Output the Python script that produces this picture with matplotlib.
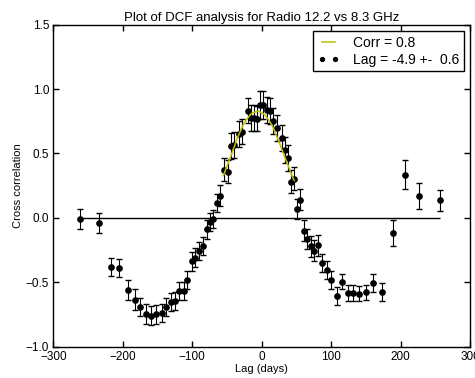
import numpy as np
import matplotlib
matplotlib.use("Agg")
import matplotlib.pyplot as plt
from matplotlib.lines import Line2D

plt.rcParams['font.family'] = ['Liberation Sans', 'DejaVu Sans']

# DCF points: lag (days), correlation, error
lag = [-261, -234, -217, -205, -193, -183, -175, -167, -159, -152,
       -144, -138, -131, -125, -119, -112, -107, -101, -95.5, -90,
       -84.5, -79, -75, -70, -65, -60, -54, -49, -43.5, -40.5,
       -32, -29, -20, -16, -11, -7, -2.4, 2.3, 7.2, 12,
       16.7, 22.4, 28.8, 33.5, 38.3, 42, 47, 50.4, 55.8, 60.5,
       65, 71, 75.7, 81.4, 87.2, 93.5, 99.7, 108, 116, 123.7,
       131.8, 140, 150, 161, 173.5, 189, 206, 226, 256.5]
dcf = [-0.01, -0.04, -0.38, -0.39, -0.56, -0.635, -0.69, -0.745, -0.76, -0.75,
       -0.74, -0.69, -0.65, -0.647, -0.57, -0.565, -0.48, -0.337, -0.31, -0.26,
       -0.22, -0.09, -0.034, -0.008, 0.116, 0.173, 0.375, 0.36, 0.556, 0.565,
       0.652, 0.67, 0.833, 0.776, 0.776, 0.771, 0.874, 0.874, 0.84, 0.828,
       0.75, 0.70, 0.62, 0.53, 0.466, 0.28, 0.305, 0.07, 0.142, -0.10,
       -0.163, -0.22, -0.254, -0.213, -0.35, -0.407, -0.484, -0.603, -0.495, -0.583,
       -0.583, -0.588, -0.578, -0.505, -0.578, -0.12, 0.336, 0.17, 0.137]
err = [0.08, 0.08, 0.07, 0.07, 0.08, 0.08, 0.07, 0.075, 0.075, 0.075,
       0.07, 0.07, 0.07, 0.07, 0.07, 0.07, 0.07, 0.075, 0.075, 0.07,
       0.07, 0.07, 0.07, 0.07, 0.07, 0.08, 0.09, 0.09, 0.1, 0.1,
       0.1, 0.1, 0.1, 0.1, 0.1, 0.1, 0.11, 0.11, 0.1, 0.1,
       0.1, 0.1, 0.1, 0.1, 0.1, 0.09, 0.09, 0.08, 0.08, 0.08,
       0.08, 0.08, 0.08, 0.08, 0.07, 0.07, 0.07, 0.07, 0.06, 0.06,
       0.06, 0.06, 0.06, 0.07, 0.07, 0.1, 0.11, 0.1, 0.08]

# fitted curve
fit_lag = [-55, -45, -35, -25, -15, -5, 5, 15, 25, 35, 45, 47]
fit_val = [0.33, 0.47, 0.62, 0.74, 0.81, 0.83, 0.80, 0.72, 0.59, 0.45, 0.31, 0.29]

fig = plt.figure(figsize=(4.75, 3.78), dpi=100)
ax = fig.add_axes([0.1122, 0.0828, 0.8773, 0.8519])

ax.hlines(0, lag[0], lag[-1], colors='k', linewidth=1)
ax.errorbar(lag, dcf, yerr=err, fmt='o', color='k', markersize=3.8,
            ecolor='k', elinewidth=0.8, capsize=2.3, capthick=1)
fit_line, = ax.plot(fit_lag, fit_val, color=(0.75, 0.75, 0), linewidth=1.1, zorder=4)

ax.set_xlim(-300, 300)
ax.set_ylim(-1.0, 1.5)
ax.set_xticks([-300, -200, -100, 0, 100, 200, 300])
ax.set_yticks([-1.0, -0.5, 0.0, 0.5, 1.0, 1.5])
ax.tick_params(direction='in', length=4, width=1, top=True, right=True,
               labelsize=8.5, pad=3)
for s in ax.spines.values():
    s.set_linewidth(1)

ax.set_xlabel('Lag (days)', fontsize=8, labelpad=1)
ax.set_ylabel('Cross correlation', fontsize=8, labelpad=2)
ax.set_title('Plot of DCF analysis for Radio 12.2 vs 8.3 GHz', fontsize=9.5, pad=3)

dots = Line2D([], [], linestyle='none', marker='o', color='k', markersize=2.8)
leg = ax.legend([fit_line, dots], ['Corr = 0.8', 'Lag = -4.9 +-  0.6'],
                loc='upper right', numpoints=2, fontsize=10, fancybox=False,
                handlelength=1.5, handletextpad=1.0, borderaxespad=0.45,
                borderpad=0.35, labelspacing=0.2, framealpha=1)
leg.get_frame().set_edgecolor('k')
leg.get_frame().set_linewidth(1)

fig.savefig('out.png', dpi=100, facecolor='white')
